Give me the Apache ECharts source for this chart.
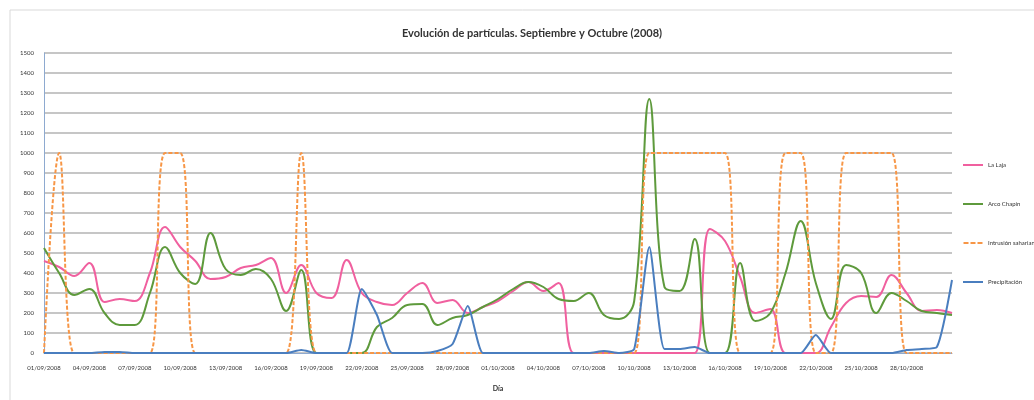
<!DOCTYPE html>
<html>
<head>
<meta charset="utf-8">
<title>Evolución de partículas</title>
<script src="https://cdn.jsdelivr.net/npm/echarts@6/dist/echarts.min.js"></script>
<style>
  html, body { margin: 0; padding: 0; background: #fff; }
  #chart { width: 1034px; height: 400px; }
</style>
</head>
<body>
<div id="chart"></div>
<script>
// 61 días: 01/09/2008 - 31/10/2008
let dias = []
for (let d = 1; d <= 30; d++) dias.push((d < 10 ? '0' + d : d) + '/09/2008')
for (let d = 1; d <= 31; d++) dias.push((d < 10 ? '0' + d : d) + '/10/2008')

let nombres = ['La Laja', 'Arco Chapín', 'Intrusión sahariana', 'Precipitación']

// valores (eje 0 - 1500)
let laLaja = [
  460, 430, 385, 450, 255, 270, 260, 400, 630, 530,
  460, 370, 380, 425, 440, 475, 300, 440, 300, 275,
  465, 300, 255, 240, 300, 350, 250, 265, 200, 230,
  260, 310, 355, 310, 350, 0, 0, 0, 0, 0,
  0, 0, 0, 0, 620, 560, 380, 200, 220, 0,
  0, 0, 130, 250, 285, 280, 390, 300, 210, 215,
  200
]
let arcoChapin = [
  525, 400, 290, 320, 200, 140, 140, 300, 530, 400,
  345, 600, 420, 390, 420, 370, 210, 415, 0, 0,
  0, 0, 130, 175, 240, 245, 140, 175, 190, 230,
  270, 320, 355, 330, 270, 260, 300, 190, 170, 260,
  1270, 330, 310, 570, 0, 0, 450, 160, 200, 400,
  660, 350, 170, 440, 400, 200, 300, 260, 210, 200,
  190
]
let intrusion = [
  0, 1000, 0, 0, 0, 0, 0, 0, 1000, 1000,
  0, 0, 0, 0, 0, 0, 0, 1000, 0, 0,
  0, 0, 0, 0, 0, 0, 0, 0, 0, 0,
  0, 0, 0, 0, 0, 0, 0, 0, 0, 0,
  1000, 1000, 1000, 1000, 1000, 1000, 0, 0, 0, 1000,
  1000, 0, 0, 1000, 1000, 1000, 1000, 0, 0, 0,
  0
]
let precipitacion = [
  0, 0, 0, 0, 5, 5, 0, 0, 0, 0,
  0, 0, 0, 0, 0, 0, 0, 15, 0, 0,
  0, 320, 190, 0, 0, 0, 10, 45, 235, 0,
  0, 0, 0, 0, 0, 0, 0, 10, 0, 20,
  530, 20, 20, 30, 0, 0, 0, 0, 0, 0,
  0, 90, 0, 0, 0, 0, 0, 15, 20, 30,
  365
]

let colores = ['#f0609f', '#5e9a3c', '#f79646', '#4a7ebf']
let fuente = 'Lato'

// iconos de leyenda: línea continua y línea discontinua
let iconoLinea = 'path://M0,0h20v2h-20z'
let iconoDiscontinuo = 'path://M0,0h5v2h-5z M7,0h5v2h-5z M14,0h5v2h-5z'

let chart = echarts.init(document.getElementById('chart'))

function linea (i, data, extra) {
  return Object.assign({
    name: nombres[i],
    type: 'line',
    data: data,
    symbol: 'none',
    smooth: 0.4,
    lineStyle: { color: colores[i], width: 2 },
    itemStyle: { color: colores[i] }
  }, extra || {})
}

chart.setOption({
  animation: false,
  textStyle: { fontFamily: fuente },
  title: {
    text: 'Evolución de partículas. Septiembre y Octubre (2008)',
    left: 527,
    top: 23,
    textAlign: 'center',
    textStyle: { fontSize: 11, fontWeight: 'bold', color: '#333', fontFamily: fuente }
  },
  // marco del gráfico
  graphic: [{
    type: 'rect',
    shape: { x: 10, y: 10, width: 1040, height: 400 },
    style: { fill: 'none', stroke: '#d9d9d9', lineWidth: 1 },
    silent: true
  }],
  legend: {
    orient: 'vertical',
    left: 958,
    top: 157,
    itemGap: 33,
    itemWidth: 20,
    itemHeight: 2,
    textStyle: { fontSize: 6, color: '#333', fontFamily: fuente },
    data: nombres.map((n, i) => ({
      name: n,
      icon: i === 2 ? iconoDiscontinuo : iconoLinea,
      itemStyle: { color: colores[i] }
    }))
  },
  grid: { left: 44, right: 82, top: 53, bottom: 47 },
  xAxis: {
    type: 'category',
    boundaryGap: false,
    data: dias,
    name: 'Día',
    nameLocation: 'middle',
    nameGap: 32,
    nameTextStyle: { fontSize: 7, fontWeight: 'bold', color: '#333' },
    axisLine: { lineStyle: { color: '#8eaad0', width: 1 } },
    axisTick: { show: false },
    axisLabel: {
      // una etiqueta cada 3 días, hasta el 28/10
      interval: (idx) => idx % 3 === 0 && idx < 60,
      fontSize: 6,
      color: '#333',
      margin: 12
    }
  },
  yAxis: {
    type: 'value',
    min: 0,
    max: 1500,
    interval: 100,
    axisLine: { show: true, lineStyle: { color: '#8eaad0' } },
    axisTick: { show: false },
    axisLabel: { fontSize: 6, color: '#333', margin: 10, formatter: (v) => String(v) },
    splitLine: { lineStyle: { color: '#c6c6c6', width: 2 } }
  },
  series: [
    linea(0, laLaja),
    linea(1, arcoChapin),
    linea(2, intrusion, { lineStyle: { color: colores[2], width: 2, type: [4, 2] } }),
    linea(3, precipitacion, { smooth: 0.2 })
  ]
})
</script>
</body>
</html>
